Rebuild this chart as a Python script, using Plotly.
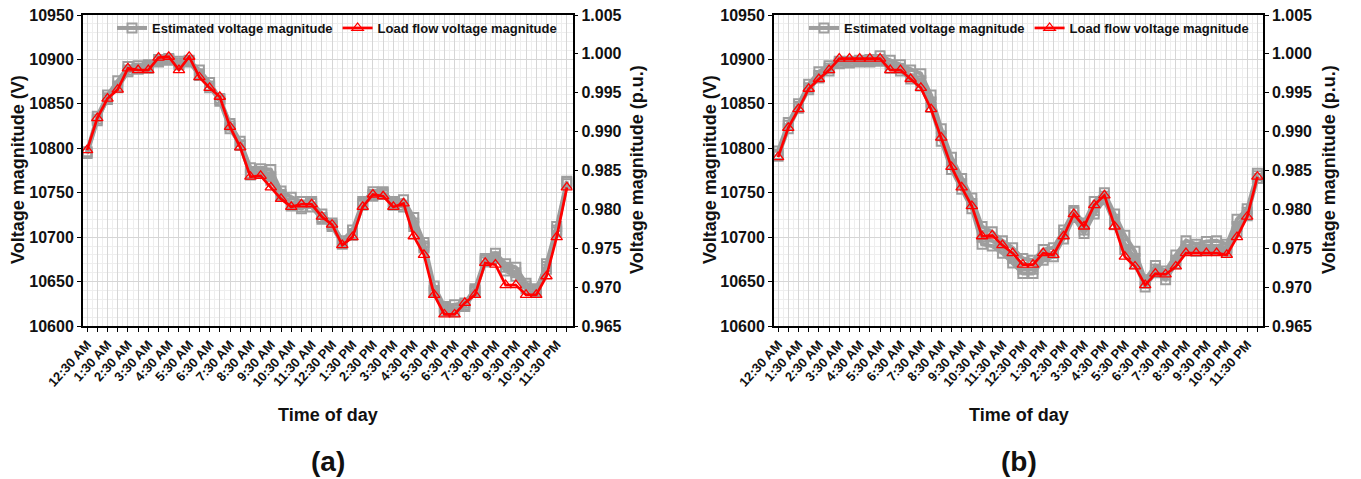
import plotly.graph_objects as go

# ---------------- data ----------------
tick_labels = ["12:30 AM", "1:30 AM", "2:30 AM", "3:30 AM", "4:30 AM", "5:30 AM",
               "6:30 AM", "7:30 AM", "8:30 AM", "9:30 AM", "10:30 AM", "11:30 AM",
               "12:30 PM", "1:30 PM", "2:30 PM", "3:30 PM", "4:30 PM", "5:30 PM",
               "6:30 PM", "7:30 PM", "8:30 PM", "9:30 PM", "10:30 PM", "11:30 PM"]
time_index = list(range(48))  # half-hourly samples starting 12:30 AM

# (a) load flow voltage magnitude (V)
lf_a = [10798, 10834, 10856, 10866, 10890, 10888, 10888, 10902, 10903, 10888, 10903, 10880,
        10868, 10858, 10824, 10801, 10768, 10769, 10756, 10743, 10734, 10737, 10737, 10723,
        10714, 10691, 10700, 10734, 10748, 10746, 10734, 10738, 10701, 10680, 10635, 10613,
        10613, 10626, 10635, 10671, 10669, 10646, 10646, 10635, 10635, 10656, 10700, 10756]
# (a) estimated voltage magnitude, several runs (V)
est_a1 = [10796, 10836, 10860, 10876, 10892, 10893, 10894, 10900, 10901, 10898, 10899, 10888,
          10874, 10856, 10828, 10808, 10778, 10777, 10776, 10752, 10745, 10740, 10740, 10726,
          10716, 10696, 10708, 10740, 10751, 10751, 10740, 10742, 10722, 10694, 10645, 10622,
          10624, 10626, 10642, 10676, 10682, 10670, 10666, 10648, 10640, 10670, 10712, 10763]
est_a2 = [10794, 10831, 10857, 10868, 10886, 10890, 10892, 10898, 10899, 10894, 10897, 10884,
          10870, 10853, 10822, 10804, 10772, 10772, 10764, 10746, 10738, 10734, 10734, 10720,
          10712, 10692, 10702, 10736, 10748, 10748, 10736, 10736, 10712, 10688, 10640, 10617,
          10619, 10622, 10638, 10672, 10678, 10662, 10656, 10642, 10638, 10664, 10706, 10760]
est_a3 = [10795, 10833, 10855, 10870, 10888, 10889, 10890, 10897, 10900, 10896, 10898, 10882,
          10868, 10855, 10825, 10803, 10770, 10774, 10768, 10748, 10735, 10732, 10738, 10722,
          10714, 10694, 10704, 10738, 10746, 10750, 10738, 10734, 10716, 10690, 10638, 10620,
          10616, 10624, 10640, 10674, 10676, 10666, 10660, 10645, 10642, 10667, 10708, 10762]

# (b) load flow voltage magnitude (V)
lf_b = [10790, 10823, 10844, 10867, 10878, 10888, 10901, 10901, 10901, 10901, 10901, 10888,
        10888, 10878, 10868, 10844, 10812, 10779, 10756, 10735, 10701, 10702, 10691, 10682,
        10669, 10669, 10682, 10680, 10701, 10726, 10712, 10736, 10747, 10712, 10678, 10667,
        10646, 10659, 10658, 10667, 10682, 10682, 10682, 10682, 10680, 10700, 10723, 10768]
# (b) estimated voltage magnitude, several runs (V)
est_b1 = [10797, 10829, 10850, 10872, 10886, 10893, 10898, 10898, 10899, 10900, 10904, 10899,
          10894, 10888, 10884, 10860, 10822, 10790, 10766, 10744, 10712, 10706, 10696, 10688,
          10676, 10674, 10686, 10688, 10708, 10730, 10716, 10740, 10750, 10726, 10702, 10684,
          10652, 10668, 10662, 10680, 10696, 10692, 10695, 10696, 10692, 10720, 10732, 10772]
est_b2 = [10793, 10826, 10847, 10868, 10882, 10890, 10896, 10897, 10898, 10898, 10900, 10894,
          10890, 10882, 10876, 10852, 10814, 10782, 10760, 10738, 10700, 10696, 10688, 10676,
          10664, 10664, 10678, 10682, 10704, 10728, 10708, 10730, 10746, 10720, 10692, 10676,
          10648, 10664, 10657, 10674, 10690, 10688, 10690, 10690, 10688, 10712, 10728, 10769]
est_b3 = [10791, 10822, 10845, 10866, 10879, 10887, 10895, 10896, 10897, 10897, 10898, 10890,
          10887, 10878, 10870, 10846, 10808, 10776, 10754, 10732, 10692, 10690, 10682, 10671,
          10659, 10659, 10674, 10678, 10698, 10722, 10704, 10726, 10742, 10714, 10686, 10670,
          10644, 10660, 10652, 10670, 10686, 10684, 10686, 10686, 10684, 10706, 10724, 10766]

v_range = [10600, 10950]
pu_range = [0.965, 1.005]

# ---------------- styling ----------------
W, H = 1361, 479
FONT = "Liberation Sans, Arial, sans-serif"
GRAY = "#9e9e9e"
RED = "#ff0000"

def px_x(p):
    return p / W

def px_y(p):
    return 1 - p / H

dom_a = [px_x(83), px_x(572.5)]
dom_b = [px_x(774), px_x(1263)]
dom_y = [px_y(326), px_y(15)]

fig = go.Figure()

full_ticktext = []
for i in time_index:
    full_ticktext.append(tick_labels[i // 2] if i % 2 == 0 else "")

def add_panel(xa, ya, ests, lf, legend_name):
    for k, est in enumerate(ests):
        fig.add_trace(go.Scatter(
            x=time_index, y=est, xaxis=xa, yaxis=ya, mode="lines+markers",
            name="Estimated voltage magnitude", legend=legend_name,
            showlegend=(k == 0),
            line=dict(color=GRAY, width=4),
            marker=dict(symbol="square-open", size=9, color=GRAY, line=dict(width=2, color=GRAY)),
        ))
    fig.add_trace(go.Scatter(
        x=time_index, y=lf, xaxis=xa, yaxis=ya, mode="lines+markers",
        name="Load flow voltage magnitude", legend=legend_name,
        line=dict(color=RED, width=2.7),
        marker=dict(symbol="triangle-up-open", size=10, color=RED, line=dict(width=1.3, color=RED)),
    ))

add_panel("x", "y", [est_a1, est_a2, est_a3], lf_a, "legend")
add_panel("x2", "y3", [est_b1, est_b2, est_b3], lf_b, "legend2")

# placeholder traces so the p.u. axes are rendered
fig.add_trace(go.Scatter(x=[None], y=[None], xaxis="x", yaxis="y2", showlegend=False, hoverinfo="skip"))
fig.add_trace(go.Scatter(x=[None], y=[None], xaxis="x2", yaxis="y4", showlegend=False, hoverinfo="skip"))

tickfont = dict(family=FONT, size=16, color="#111", weight="bold")
xtickfont = dict(family=FONT, size=13, color="#111", weight="bold")

def xaxis_cfg(domain, anchor):
    return dict(
        domain=domain, anchor=anchor, range=[-0.4, 47.55], automargin=False,
        tickmode="array", tickvals=time_index, ticktext=full_ticktext,
        tickangle=-48, tickfont=xtickfont,
        ticks="outside", ticklen=4, tickwidth=1, tickcolor="#000",
        showgrid=True, gridcolor="#d6d6d6", gridwidth=1,
        minor=dict(tickmode="array", tickvals=[i + 0.5 for i in range(-1, 48)],
                   showgrid=True, gridcolor="#eeeeee", gridwidth=1),
        showline=True, linecolor="#000", linewidth=2, mirror=True,
        zeroline=False, fixedrange=True,
    )

def yaxis_cfg(anchor):
    return dict(
        domain=dom_y, anchor=anchor, range=v_range, dtick=50, tick0=10600, tickformat="d",
        automargin=False,
        tickfont=tickfont, ticks="outside", ticklen=4, tickwidth=1, tickcolor="#000",
        showgrid=True, gridcolor="#d6d6d6", gridwidth=1,
        minor=dict(dtick=10, tick0=10600, showgrid=True, gridcolor="#eeeeee", gridwidth=1),
        showline=True, linecolor="#000", linewidth=2,
        zeroline=False, fixedrange=True,
    )

def y2_cfg(overlay, anchor):
    return dict(
        overlaying=overlay, anchor=anchor, side="right", range=pu_range, dtick=0.005,
        tick0=0.965, tickformat=".3f", tickfont=tickfont, automargin=False,
        ticks="outside", ticklen=4, tickwidth=1, tickcolor="#000",
        showgrid=False, showline=True, linecolor="#000", linewidth=1.5,
        zeroline=False, fixedrange=True,
    )

legend_font = dict(family=FONT, size=13, color="#111", weight="bold")

def legend_cfg(x_px):
    return dict(
        x=px_x(x_px), y=px_y(13), xanchor="left", yanchor="top",
        orientation="h", bgcolor="rgba(0,0,0,0)", borderwidth=0,
        font=legend_font, itemwidth=30, tracegroupgap=0,
    )

title_font = dict(family=FONT, size=18, color="#111", weight="bold")
label_font = dict(family=FONT, size=28, color="#111", weight="bold")

annotations = []
for cx, ly, ry, lab in [((83 + 572.5) / 2, 18, 637, "(a)"), ((774 + 1263) / 2, 710, 1329, "(b)")]:
    annotations.append(dict(text="Time of day", x=px_x(cx), y=px_y(415), xref="paper", yref="paper",
                            showarrow=False, font=title_font, xanchor="center", yanchor="middle"))
    annotations.append(dict(text=lab, x=px_x(cx), y=px_y(461), xref="paper", yref="paper",
                            showarrow=False, font=label_font, xanchor="center", yanchor="middle"))
    annotations.append(dict(text="Voltage magnitude (V)", x=px_x(ly), y=px_y(170), xref="paper",
                            yref="paper", showarrow=False, font=title_font, textangle=-90,
                            xanchor="center", yanchor="middle"))
    annotations.append(dict(text="Voltage magnitude (p.u.)", x=px_x(ry), y=px_y(170), xref="paper",
                            yref="paper", showarrow=False, font=title_font, textangle=-90,
                            xanchor="center", yanchor="middle"))

fig.update_layout(
    width=W, height=H, margin=dict(l=0, r=0, t=0, b=0, autoexpand=False),
    paper_bgcolor="white", plot_bgcolor="white",
    font=dict(family=FONT, color="#111"),
    xaxis=xaxis_cfg(dom_a, "y"),
    yaxis=yaxis_cfg("x"),
    yaxis2=y2_cfg("y", "x"),
    xaxis2=xaxis_cfg(dom_b, "y3"),
    yaxis3=yaxis_cfg("x2"),
    yaxis4=y2_cfg("y3", "x2"),
    legend=legend_cfg(112),
    legend2=legend_cfg(804),
    annotations=annotations,
    showlegend=True,
)

fig.write_html("out.html")
